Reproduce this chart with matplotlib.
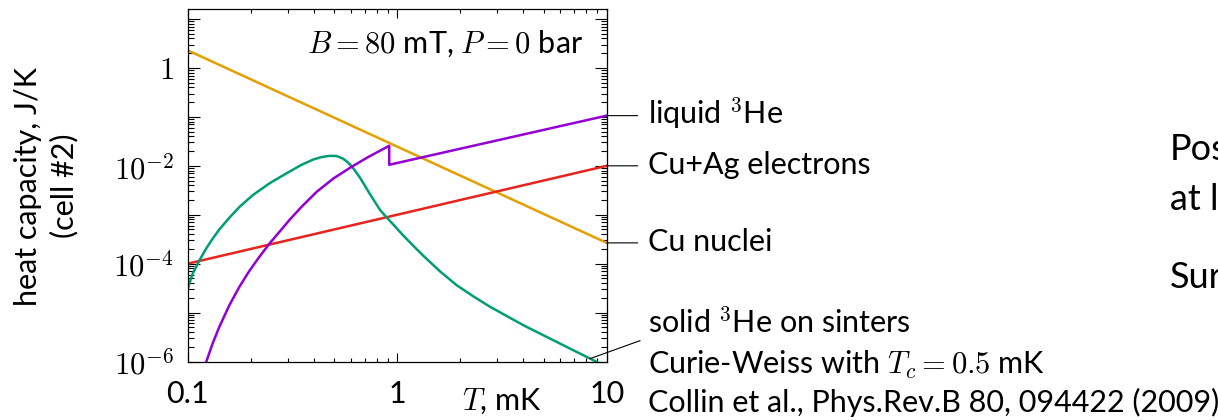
import numpy as np
import matplotlib.pyplot as plt
from matplotlib.ticker import LogLocator, NullFormatter

plt.rcParams['font.family'] = ['Lato', 'DejaVu Sans']
plt.rcParams['mathtext.fontset'] = 'cm'

# --- data (T in mK, C in J/K) ---
T_nuclei = [0.1, 10]
C_nuclei = [2.29, 2.66e-4]

T_electrons = [0.1, 10]
C_electrons = [1.0e-4, 1.0e-2]

# liquid 3He: superfluid branch, jump at Tc, then normal Fermi liquid
T_liquid = [0.1225, 0.1315, 0.1416, 0.158, 0.1766, 0.1968, 0.2198, 0.2455,
            0.274, 0.3055, 0.3508, 0.413, 0.4955, 0.5957, 0.7145, 0.916,
            0.916, 10]
C_liquid = [9.77e-7, 2.34e-6, 5.13e-6, 1.41e-5, 3.39e-5, 7.08e-5, 1.38e-4,
            2.57e-4, 4.47e-4, 7.76e-4, 1.48e-3, 2.95e-3, 5.50e-3, 9.12e-3,
            1.45e-2, 2.57e-2, 1.05e-2, 0.106]

# solid 3He on sinters (Curie-Weiss)
T_solid = [0.1000, 0.1057, 0.1138, 0.1225, 0.1315, 0.1416, 0.1581, 0.1766,
           0.2042, 0.2455, 0.2944, 0.3491, 0.3981, 0.4365, 0.4775, 0.5129,
           0.5495, 0.5741, 0.6067, 0.6339, 0.6637, 0.6998, 0.7413, 0.7834,
           0.8279, 0.8750, 0.9247, 0.9772, 1.030, 1.112, 1.216, 1.334, 1.603,
           1.923, 2.312, 2.773, 3.334, 4.009, 4.808, 5.781, 6.934, 8.337,
           8.974, 10]
C_solid = [3.09e-5, 6.31e-5, 1.175e-4, 2.04e-4, 3.24e-4, 5.01e-4, 8.71e-4,
           1.445e-3, 2.51e-3, 4.37e-3, 6.92e-3, 1.047e-2, 1.349e-2, 1.514e-2,
           1.60e-2, 1.585e-2, 1.413e-2, 1.230e-2, 9.77e-3, 7.59e-3, 5.75e-3,
           3.98e-3, 2.63e-3, 1.820e-3, 1.259e-3, 9.55e-4, 7.41e-4, 5.75e-4,
           4.47e-4, 3.16e-4, 2.14e-4, 1.445e-4, 6.92e-5, 3.63e-5, 2.14e-5,
           1.318e-5, 8.51e-6, 5.50e-6, 3.72e-6, 2.51e-6, 1.698e-6, 1.148e-6,
           9.77e-7, 7.6e-7]

x_ticks = [0.1, 1, 10]
x_ticklabels = ['0.1', '1', '10']
y_ticks = [1e-6, 1e-5, 1e-4, 1e-3, 1e-2, 1e-1, 1, 10]
y_ticklabels = [r'$10^{-6}$', '', r'$10^{-4}$', '', r'$10^{-2}$', '', r'$1$', '']

fs = 22
W, H = 1218, 420


def px(x, y):
    # pixel position (from top-left) -> figure fraction
    return x / W, 1 - y / H


fig = plt.figure(figsize=(W / 100, H / 100), dpi=100)
ax = fig.add_axes([187.7 / W, 1 - 362.3 / H, 419 / W, 353 / H])

lw = 1.8
ax.plot(T_nuclei, C_nuclei, color='#E69F00', lw=lw)
ax.plot(T_electrons, C_electrons, color='#E8231E', lw=lw)
ax.plot(T_solid, C_solid, color='#009E73', lw=lw)
ax.plot(T_liquid, C_liquid, color='#9400D3', lw=lw)

ax.set_xscale('log')
ax.set_yscale('log')
ax.set_xlim(0.1, 10)
ax.set_ylim(0.965e-6, 15.8)

ax.set_xticks(x_ticks)
ax.set_xticklabels(x_ticklabels, fontsize=fs)
ax.set_yticks(y_ticks)
ax.set_yticklabels(y_ticklabels, fontsize=fs)
ax.xaxis.set_minor_locator(LogLocator(base=10, subs=np.arange(2, 10), numticks=100))
ax.yaxis.set_minor_locator(LogLocator(base=10, subs=np.arange(2, 10), numticks=100))
ax.xaxis.set_minor_formatter(NullFormatter())
ax.yaxis.set_minor_formatter(NullFormatter())

ax.tick_params(which='both', direction='in', top=True, right=True, width=0.8)
ax.tick_params(axis='x', which='major', length=6.5, pad=13)
ax.tick_params(axis='x', which='minor', length=2.9)
ax.tick_params(axis='y', which='major', length=8.6, pad=10)
ax.tick_params(axis='y', which='minor', length=4.3)
for s in ax.spines.values():
    s.set_linewidth(0.9)

ax.text(0.943, 0.876, r'$B = 80$ mT, $P = 0$ bar', transform=ax.transAxes,
        ha='right', va='baseline', fontsize=fs)

ax.text(0.75, -0.135, r'$T$, mK', transform=ax.transAxes,
        ha='center', va='baseline', fontsize=fs)

fig.text(*px(46.5, 186), 'heat capacity, J/K\n(cell #2)', rotation=90,
         ha='center', va='center', multialignment='center', fontsize=fs,
         linespacing=1.33)

# labels at the right end of the lines
for c_end, label in [(C_liquid[-1], r'liquid $^3$He'),
                     (C_electrons[-1], 'Cu+Ag electrons'),
                     (C_nuclei[-1], 'Cu nuclei')]:
    ax.annotate('', xy=(10, c_end), xytext=(31, 0), textcoords='offset pixels',
                arrowprops=dict(arrowstyle='-', lw=0.8, color='black',
                                shrinkA=0, shrinkB=0),
                annotation_clip=False)
    ax.annotate(label, xy=(10, c_end), xytext=(41, -8), textcoords='offset pixels',
                ha='left', va='baseline', fontsize=fs, annotation_clip=False)

ax.annotate('', xy=(T_solid[-3], C_solid[-3]), xytext=(50, 18),
            textcoords='offset pixels',
            arrowprops=dict(arrowstyle='-', lw=0.8, color='black',
                            shrinkA=0, shrinkB=0),
            annotation_clip=False)

fig.text(*px(648, 333), r'solid $^3$He on sinters', fontsize=fs, va='baseline')
fig.text(*px(648, 374), r'Curie-Weiss with $T_c = 0.5$ mK', fontsize=fs, va='baseline')
fig.text(*px(648, 412), 'Collin et al., Phys.Rev.B 80, 094422 (2009)', fontsize=fs,
         va='baseline')

# text of the slide cut off at the right edge (as in the reference)
fig.text(*px(1170, 160), 'Pos', fontsize=26, va='baseline')
fig.text(*px(1170, 210), 'at l', fontsize=26, va='baseline')
fig.text(*px(1170, 288), 'Sur', fontsize=26, va='baseline')

fig.savefig('out.png', dpi=100)
